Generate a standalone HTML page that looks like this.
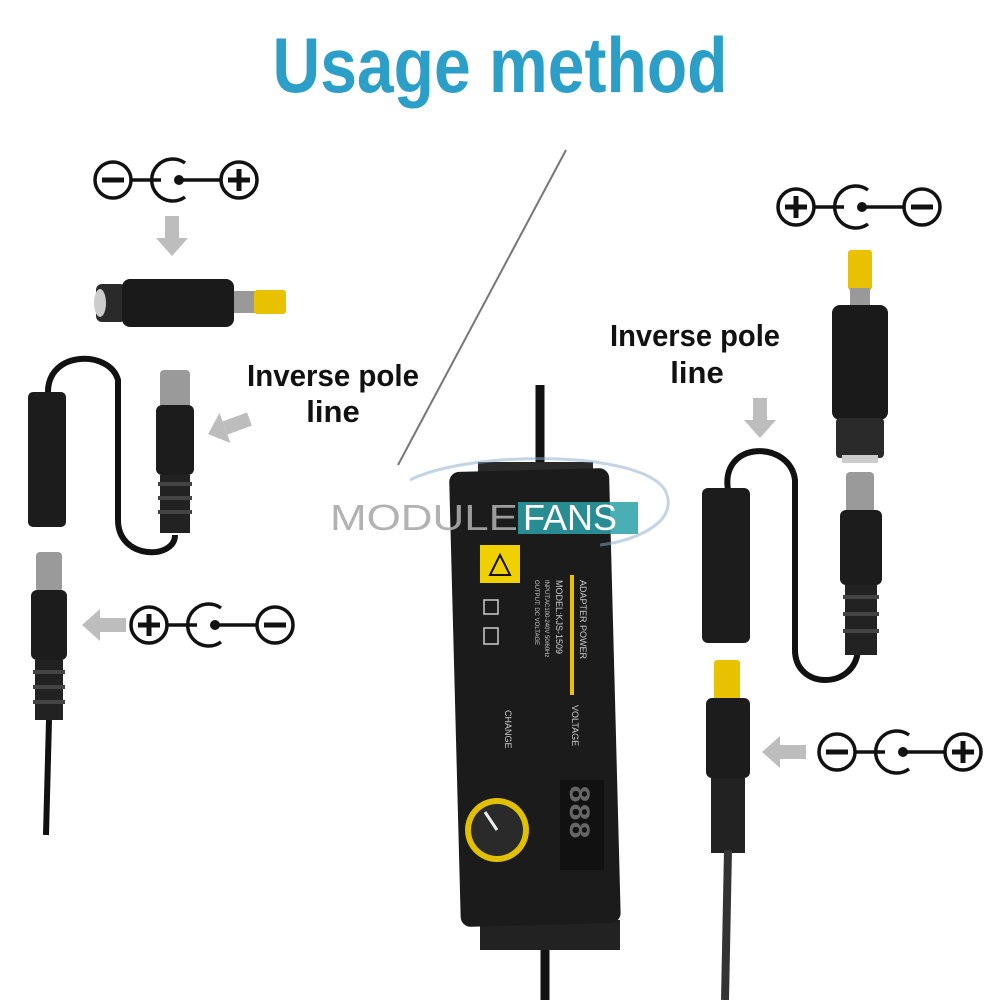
<!DOCTYPE html>
<html><head><meta charset="utf-8"><style>
html,body{margin:0;padding:0;background:#fff;width:1000px;height:1000px;overflow:hidden}
svg{display:block}
</style></head><body>
<svg width="1000" height="1000" viewBox="0 0 1000 1000" xmlns="http://www.w3.org/2000/svg">
<defs>
<g id="sym">
 <circle cx="0" cy="0" r="18" fill="none" stroke="#111" stroke-width="3.5"/>
 <line x1="18" y1="0" x2="48" y2="0" stroke="#111" stroke-width="3.5"/>
 <path d="M72,-17 A21,21 0 1 0 72,17" fill="none" stroke="#111" stroke-width="3.5"/>
 <circle cx="66" cy="0" r="5" fill="#111"/>
 <line x1="66" y1="0" x2="108" y2="0" stroke="#111" stroke-width="3.5"/>
 <circle cx="126" cy="0" r="18" fill="none" stroke="#111" stroke-width="3.5"/>
</g>
<g id="minus"><rect x="-11" y="-2.5" width="22" height="5" fill="#111"/></g>
<g id="plus"><rect x="-11" y="-2.5" width="22" height="5" fill="#111"/><rect x="-2.5" y="-11" width="5" height="22" fill="#111"/></g>
<g id="arrowD"><rect x="-7" y="-22" width="14" height="22" fill="#bdbdbd"/><polygon points="-16,0 16,0 0,18" fill="#bdbdbd"/></g>
<g id="arrowL"><rect x="0" y="-7" width="26" height="14" fill="#bdbdbd"/><polygon points="0,-16 0,16 -18,0" fill="#bdbdbd"/></g>
</defs>

<text x="500" y="92" text-anchor="middle" font-family="Liberation Sans, sans-serif" font-weight="bold" font-size="78" fill="#2c9fc8" textLength="455" lengthAdjust="spacingAndGlyphs">Usage method</text>

<line x1="566" y1="150" x2="398" y2="465" stroke="#777" stroke-width="2"/>

<g transform="translate(113,180)"><use href="#sym"/><use href="#minus"/><use href="#plus" x="126"/></g>
<g transform="translate(149,625)"><use href="#sym"/><use href="#plus"/><use href="#minus" x="126"/></g>
<g transform="translate(796,207)"><use href="#sym"/><use href="#plus"/><use href="#minus" x="126"/></g>
<g transform="translate(837,752)"><use href="#sym"/><use href="#minus"/><use href="#plus" x="126"/></g>

<use href="#arrowD" x="172" y="238"/>
<use href="#arrowL" x="225" y="428" transform="rotate(-20 225 428)"/>
<use href="#arrowL" x="100" y="625"/>
<use href="#arrowD" x="760" y="420"/>
<use href="#arrowL" x="780" y="752"/>

<g font-family="Liberation Sans, sans-serif" font-weight="bold" font-size="31" fill="#111" text-anchor="middle">
<text x="333" y="386" textLength="172" lengthAdjust="spacingAndGlyphs">Inverse pole</text>
<text x="333" y="422">line</text>
<text x="695" y="346" textLength="170" lengthAdjust="spacingAndGlyphs">Inverse pole</text>
<text x="697" y="383">line</text>
</g>

<rect x="96" y="284" width="30" height="38" rx="6" fill="#2a2a2a"/>
<rect x="122" y="279" width="112" height="48" rx="8" fill="#1a1a1a"/>
<rect x="234" y="291" width="22" height="22" fill="#999"/>
<rect x="254" y="290" width="32" height="24" rx="3" fill="#e8c200"/>
<ellipse cx="100" cy="303" rx="6" ry="14" fill="#ccc"/>

<path d="M48,392 C48,350 110,350 118,380 L118,520 C118,560 175,560 175,535" fill="none" stroke="#111" stroke-width="6"/>
<rect x="28" y="392" width="38" height="135" rx="5" fill="#1c1c1c"/>
<rect x="160" y="370" width="30" height="40" rx="4" fill="#9a9a9a"/>
<rect x="156" y="405" width="38" height="70" rx="6" fill="#1c1c1c"/>
<rect x="160" y="475" width="30" height="58" fill="#222"/>
<g fill="#444"><rect x="158" y="482" width="34" height="4"/><rect x="158" y="496" width="34" height="4"/><rect x="158" y="510" width="34" height="4"/></g>

<rect x="36" y="552" width="26" height="40" rx="4" fill="#9a9a9a"/>
<rect x="31" y="590" width="36" height="70" rx="6" fill="#1c1c1c"/>
<rect x="35" y="660" width="28" height="60" fill="#222"/>
<g fill="#444"><rect x="33" y="670" width="32" height="4"/><rect x="33" y="685" width="32" height="4"/><rect x="33" y="700" width="32" height="4"/></g>
<path d="M49,720 L46,835" stroke="#111" stroke-width="6"/>

<rect x="848" y="250" width="24" height="40" rx="3" fill="#e8c200"/>
<rect x="850" y="288" width="20" height="20" fill="#999"/>
<rect x="832" y="305" width="56" height="115" rx="8" fill="#1a1a1a"/>
<rect x="836" y="418" width="48" height="40" rx="4" fill="#2a2a2a"/>
<rect x="842" y="455" width="36" height="8" fill="#ccc"/>

<path d="M728,490 C720,440 790,440 795,480 L795,650 C795,690 855,690 858,650" fill="none" stroke="#111" stroke-width="6"/>
<rect x="702" y="488" width="48" height="155" rx="6" fill="#1c1c1c"/>
<rect x="846" y="472" width="28" height="42" rx="4" fill="#9a9a9a"/>
<rect x="840" y="510" width="42" height="75" rx="6" fill="#1c1c1c"/>
<rect x="845" y="585" width="32" height="70" fill="#222"/>
<g fill="#444"><rect x="843" y="595" width="36" height="4"/><rect x="843" y="612" width="36" height="4"/><rect x="843" y="629" width="36" height="4"/></g>

<rect x="714" y="660" width="26" height="40" rx="3" fill="#e8c200"/>
<rect x="706" y="698" width="44" height="80" rx="6" fill="#1c1c1c"/>
<rect x="711" y="778" width="34" height="75" fill="#222"/>
<path d="M728,850 L725,1000" stroke="#333" stroke-width="8"/>

<path d="M540,385 L540,470" stroke="#111" stroke-width="9"/>
<path d="M545,935 L545,1000" stroke="#111" stroke-width="9"/>
<rect x="478" y="462" width="115" height="22" fill="#2a2a2a"/>
<rect x="480" y="920" width="140" height="30" fill="#222"/>
<rect x="455" y="470" width="160" height="455" rx="10" fill="#1b1b1b" transform="rotate(-1.5 535 700)"/>
<rect x="480" y="545" width="40" height="38" fill="#f0d000"/>
<polygon points="490,575 500,555 510,575" fill="none" stroke="#111" stroke-width="2"/>
<rect x="484" y="600" width="14" height="14" fill="none" stroke="#ccc" stroke-width="1.5"/>
<rect x="484" y="628" width="14" height="16" fill="none" stroke="#ccc" stroke-width="1.5"/>
<rect x="570" y="575" width="4" height="120" fill="#e8c200"/>
<g font-family="Liberation Sans, sans-serif" font-size="9" fill="#ccc">
<text transform="translate(580,580) rotate(90)">ADAPTER POWER</text>
<text transform="translate(556,580) rotate(90)">MODEL:KJS-1509</text>
<text transform="translate(545,580) rotate(90)" font-size="6">INPUT:AC100-240V 50/60Hz</text>
<text transform="translate(535,580) rotate(90)" font-size="6">OUTPUT: DC VOLTAGE</text>
<text transform="translate(572,705) rotate(90)">VOLTAGE</text>
<text transform="translate(505,710) rotate(90)">CHANGE</text>
</g>
<rect x="560" y="780" width="44" height="90" fill="#111"/>
<g font-family="Liberation Mono, monospace" font-size="30" fill="#666" font-weight="bold">
<text transform="translate(570,785) rotate(90)">888</text>
</g>
<circle cx="497" cy="830" r="32" fill="#e0c000"/>
<circle cx="497" cy="830" r="26" fill="#2a2a2a"/>
<line x1="497" y1="830" x2="485" y2="812" stroke="#eee" stroke-width="3"/>

<path d="M410,480 C470,450 640,450 665,490 C680,520 640,540 600,545" fill="none" stroke="#8ac" stroke-width="3" opacity="0.5"/>
<text x="330" y="530" font-family="Liberation Sans, sans-serif" font-size="36" fill="#aaa" opacity="0.9" textLength="188" lengthAdjust="spacingAndGlyphs">MODULE</text>
<rect x="518" y="502" width="120" height="32" fill="#2aa0a8" opacity="0.85"/>
<text x="523" y="530" font-family="Liberation Sans, sans-serif" font-size="36" fill="#fff">FANS</text>
</svg>
</body></html>
